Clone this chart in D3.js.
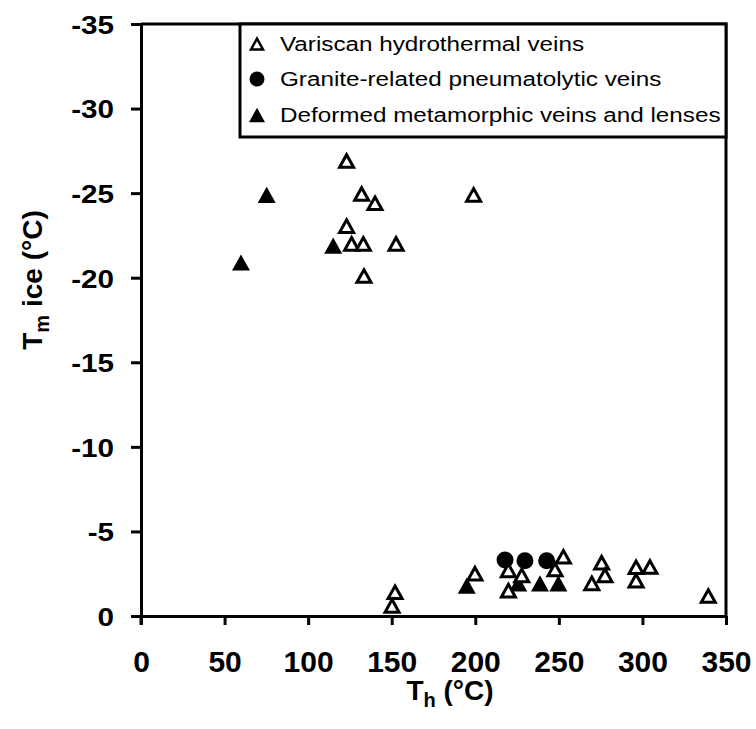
<!DOCTYPE html>
<html>
<head>
<meta charset="utf-8">
<script src="https://cdn.jsdelivr.net/npm/d3@7"></script>
<style>
  html, body { margin: 0; padding: 0; background: #fff; }
  svg { display: block; }
  text { font-family: "Liberation Sans", Arial, sans-serif; }
</style>
</head>
<body>
<svg id="chart" width="756" height="729"></svg>
<script>
// ---- data (Th in °C, Tm ice in °C) ----
const variscanTh = [123, 132, 140, 199, 123, 126, 133, 152.6, 133.4,
  152, 150.2, 199.8, 219.8, 219.8, 227.8, 252.7, 247.7, 275.6, 277.6, 269.7, 296.2, 304.5, 296.2, 339.4];
const variscanTm = [-26.9, -24.95, -24.4, -24.9, -23.05, -22, -22, -22, -20.1,
  -1.4, -0.6, -2.5, -2.7, -1.5, -2.4, -3.5, -2.75, -3.15, -2.4, -1.93, -2.88, -2.9, -2.09, -1.18];
const graniteTh = [217.8, 229.7, 242.7];
const graniteTm = [-3.31, -3.27, -3.27];
const deformedTh = [75.2, 115, 59.8, 194.9, 225.7, 238.7, 249.7];
const deformedTm = [-24.9, -21.9, -20.9, -1.8, -1.93, -1.93, -1.93];

const xTicks = [0, 50, 100, 150, 200, 250, 300, 350];
const yTicks = [0, -5, -10, -15, -20, -25, -30, -35];
const legendLabels = ["Variscan hydrothermal veins", "Granite-related pneumatolytic veins", "Deformed metamorphic veins and lenses"];

const svg = d3.select("#chart");
const x = d3.scaleLinear().domain([0, 350]).range([141, 726]);
const y = d3.scaleLinear().domain([0, -35]).range([616, 24]);

// bbox-centered triangle symbol
const triBox = {
  draw(ctx, size) {
    const w = Math.sqrt(size), h = w * 0.9;
    ctx.moveTo(0, -h / 2);
    ctx.lineTo(w / 2, h / 2);
    ctx.lineTo(-w / 2, h / 2);
    ctx.closePath();
  }
};

// frame (top + right)
svg.append("path")
  .attr("d", `M${x(0)},${y(-35)}H${x(350)}V${y(0)}`)
  .attr("fill", "none").attr("stroke", "#000").attr("stroke-width", 3);

// axes
const xAxis = svg.append("g").attr("transform", `translate(0,${y(0)})`)
  .call(d3.axisBottom(x).tickValues(xTicks).tickSize(9).tickSizeOuter(0).tickPadding(26).tickFormat(d => String(d)));
const yAxis = svg.append("g").attr("transform", `translate(${x(0)},0)`)
  .call(d3.axisLeft(y).tickValues(yTicks).tickSize(10).tickSizeOuter(0).tickPadding(16).tickFormat(d => String(d)));
[xAxis, yAxis].forEach(g => {
  g.select(".domain").attr("stroke", "#000").attr("stroke-width", 3);
  g.selectAll(".tick line").attr("stroke", "#000").attr("stroke-width", 3);
  g.selectAll(".tick text").attr("fill", "#000")
    .style("font-family", "'Liberation Sans', Arial, sans-serif")
    .style("font-weight", "bold");
});
xAxis.selectAll(".tick text").style("font-size", "30px");
const ySX = 1.14;
yAxis.selectAll(".tick text").style("font-size", "26px").attr("dy", "0.36em")
  .attr("x", -27 / ySX).attr("transform", `scale(${ySX},1)`);
// extend left tick at 0 through to bottom (cross)
svg.append("line").attr("x1", x(0)).attr("x2", x(0)).attr("y1", y(0)).attr("y2", y(0) + 9)
  .attr("stroke", "#000").attr("stroke-width", 3);

// points
const deformed = deformedTh.map((d, i) => [d, deformedTm[i]]);
const granite = graniteTh.map((d, i) => [d, graniteTm[i]]);
const variscan = variscanTh.map((d, i) => [d, variscanTm[i]]);

svg.append("g").selectAll("path").data(deformed).join("path")
  .attr("transform", d => `translate(${x(d[0])},${y(d[1])})`)
  .attr("d", d3.symbol().type(triBox).size(18 * 18))
  .attr("fill", "#000");
svg.append("g").selectAll("circle").data(granite).join("circle")
  .attr("cx", d => x(d[0])).attr("cy", d => y(d[1])).attr("r", 8.5)
  .attr("fill", "#000");
svg.append("g").selectAll("path").data(variscan).join("path")
  .attr("transform", d => `translate(${x(d[0])},${y(d[1])})`)
  .attr("d", d3.symbol().type(triBox).size(14 * 14))
  .attr("fill", "#fff").attr("stroke", "#000").attr("stroke-width", 3).attr("stroke-linejoin", "miter");

// legend
const lg = svg.append("g");
lg.append("rect").attr("x", 240).attr("y", 24).attr("width", 486).attr("height", 113)
  .attr("fill", "#fff").attr("stroke", "#000").attr("stroke-width", 3);
const rowsY = [44, 79, 115];
lg.append("path").attr("transform", `translate(257,${rowsY[0]})`)
  .attr("d", d3.symbol().type(triBox).size(12 * 12))
  .attr("fill", "#fff").attr("stroke", "#000").attr("stroke-width", 2.5);
lg.append("circle").attr("cx", 257).attr("cy", rowsY[1]).attr("r", 7.5).attr("fill", "#000");
lg.append("path").attr("transform", `translate(257,${rowsY[2]})`)
  .attr("d", d3.symbol().type(triBox).size(16 * 16)).attr("fill", "#000");
const lSX = 1.155;
lg.selectAll("text.lab").data(legendLabels).join("text").attr("class", "lab")
  .attr("x", 280 / lSX).attr("y", (d, i) => rowsY[i]).attr("dy", "0.35em")
  .attr("transform", `scale(${lSX},1)`)
  .style("font-size", "21px").text(d => d);

// axis titles
const xt = svg.append("text").attr("x", 450).attr("y", 700).attr("text-anchor", "middle")
  .style("font-size", "28px").style("font-weight", "bold");
xt.append("tspan").text("T");
xt.append("tspan").attr("dy", 7).style("font-size", "20px").text("h");
xt.append("tspan").attr("dy", -7).text(" (°C)");

const yt = svg.append("text").attr("transform", "translate(42,280) rotate(-90)").attr("text-anchor", "middle")
  .style("font-size", "28px").style("font-weight", "bold");
yt.append("tspan").text("T");
yt.append("tspan").attr("dy", 7).style("font-size", "20px").text("m");
yt.append("tspan").attr("dy", -7).text(" ice (°C)");
</script>
</body>
</html>
